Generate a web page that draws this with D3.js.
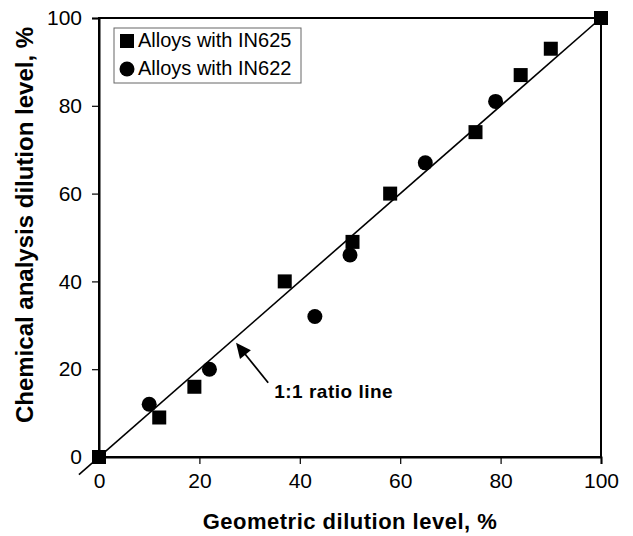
<!DOCTYPE html>
<html>
<head>
<meta charset="utf-8">
<script src="https://cdn.jsdelivr.net/npm/d3@7"></script>
<style>
  html, body { margin: 0; padding: 0; background: #fff; }
  svg { display: block; font-family: Arial, "Liberation Sans", sans-serif; }
</style>
</head>
<body>
<div id="chart"></div>
<script>
// data
const ticks = [0, 20, 40, 60, 80, 100];
const in625X = [0, 12, 19, 37, 50.5, 58, 75, 84, 90, 100];
const in625Y = [0, 9, 16, 40, 49, 60, 74, 87, 93, 100];
const in622X = [10, 22, 43, 50, 65, 79];
const in622Y = [12, 20, 32, 46, 67, 81];
const ratioLine = [-4, 100];            // y = x, drawn from -4 to 100
const arrowFrom = [33.7, 16.9];
const arrowTo = [27.3, 26.0];
const noteAt = [34.9, 13.4];
const legendLabels = ["Alloys with IN625", "Alloys with IN622"];

const W = 633, H = 536;
const margin = { top: 18, right: 32, bottom: 79, left: 99 };
const w = W - margin.left - margin.right;
const h = H - margin.top - margin.bottom;

const svg = d3.select("#chart").append("svg")
    .attr("width", W)
    .attr("height", H);

const g = svg.append("g").attr("transform", `translate(${margin.left},${margin.top})`);

const x = d3.scaleLinear().domain([0, 100]).range([0, w]);
const y = d3.scaleLinear().domain([0, 100]).range([h, 0]);

// frame
g.append("rect")
    .attr("width", w).attr("height", h)
    .attr("fill", "none")
    .attr("stroke", "#000")
    .attr("stroke-width", 2);

// axes
const xAxis = g.append("g")
    .attr("transform", `translate(0,${h})`)
    .call(d3.axisBottom(x).tickValues(ticks).tickSize(7).tickPadding(9));
const yAxis = g.append("g")
    .call(d3.axisLeft(y).tickValues(ticks).tickSize(7).tickPadding(10));

[xAxis, yAxis].forEach(a => {
    a.select(".domain").attr("stroke-width", 2);
    a.selectAll(".tick line").attr("stroke-width", 1.2);
    a.selectAll("text")
        .attr("font-family", "Arial, 'Liberation Sans', sans-serif")
        .attr("font-size", 21)
        .attr("fill", "#000");
});

// 1:1 line
g.append("line")
    .attr("x1", x(ratioLine[0])).attr("y1", y(ratioLine[0]))
    .attr("x2", x(ratioLine[1])).attr("y2", y(ratioLine[1]))
    .attr("stroke", "#000")
    .attr("stroke-width", 1.6);

// squares
const sq = 14;
g.append("g").selectAll("rect")
    .data(in625X.map((v, i) => [v, in625Y[i]]))
    .join("rect")
    .attr("x", d => x(d[0]) - sq / 2)
    .attr("y", d => y(d[1]) - sq / 2)
    .attr("width", sq).attr("height", sq)
    .attr("fill", "#000");

// circles
g.append("g").selectAll("circle")
    .data(in622X.map((v, i) => [v, in622Y[i]]))
    .join("circle")
    .attr("cx", d => x(d[0]))
    .attr("cy", d => y(d[1]))
    .attr("r", 7.5)
    .attr("fill", "#000");

// annotation arrow
const ax0 = x(arrowFrom[0]), ay0 = y(arrowFrom[1]);
const ax1 = x(arrowTo[0]), ay1 = y(arrowTo[1]);
const len = Math.hypot(ax1 - ax0, ay1 - ay0);
const ux = (ax1 - ax0) / len, uy = (ay1 - ay0) / len;
const headL = 15, headW = 7;
const bx = ax1 - ux * headL, by = ay1 - uy * headL;

g.append("line")
    .attr("x1", ax0).attr("y1", ay0)
    .attr("x2", bx + ux * 2).attr("y2", by + uy * 2)
    .attr("stroke", "#000")
    .attr("stroke-width", 1.8);

g.append("path")
    .attr("d", d3.line()([
        [ax1, ay1],
        [bx - uy * headW, by + ux * headW],
        [bx + uy * headW, by - ux * headW]
    ]) + "Z")
    .attr("fill", "#000");

g.append("text")
    .attr("x", x(noteAt[0])).attr("y", y(noteAt[1]))
    .attr("font-size", 19)
    .attr("font-weight", "bold")
    .attr("letter-spacing", 0.5)
    .text("1:1 ratio line");

// legend
const lg = g.append("g").attr("transform", "translate(15,10)");
lg.append("rect")
    .attr("width", 187).attr("height", 55)
    .attr("fill", "#fff")
    .attr("stroke", "#666")
    .attr("stroke-width", 1);
lg.append("rect")
    .attr("x", 6).attr("y", 6)
    .attr("width", 14).attr("height", 14)
    .attr("fill", "#000");
lg.append("circle")
    .attr("cx", 13).attr("cy", 41)
    .attr("r", 7.5)
    .attr("fill", "#000");
lg.selectAll("text.lab")
    .data(legendLabels)
    .join("text")
    .attr("class", "lab")
    .attr("x", 24)
    .attr("y", (d, i) => 19 + i * 28)
    .attr("font-size", 20)
    .text(d => d);

// axis titles
svg.append("text")
    .attr("x", margin.left + w / 2)
    .attr("y", 529)
    .attr("text-anchor", "middle")
    .attr("font-size", 22)
    .attr("font-weight", "bold")
    .attr("letter-spacing", 0.5)
    .text("Geometric dilution level, %");

svg.append("text")
    .attr("transform", `translate(33,225) rotate(-90)`)
    .attr("text-anchor", "middle")
    .attr("font-size", 24)
    .attr("font-weight", "bold")
    .text("Chemical analysis dilution level, %");
</script>
</body>
</html>
